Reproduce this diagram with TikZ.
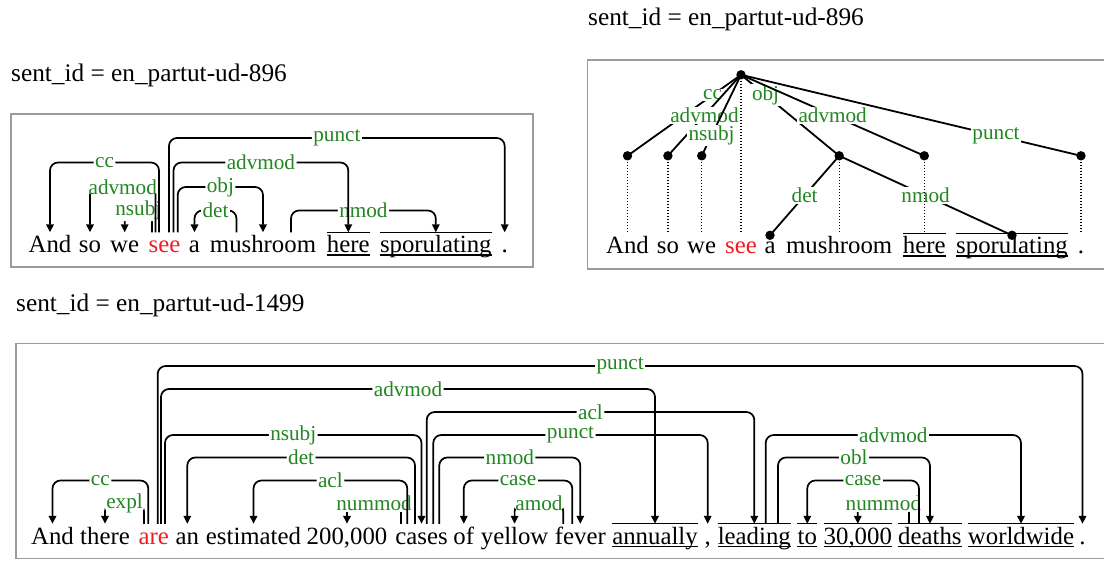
\documentclass[tikz,border=0pt]{standalone}
\usepackage{fontspec}
\setmainfont{Liberation Serif}
\usetikzlibrary{arrows.meta}

\definecolor{lblgreen}{RGB}{34,134,34}
\definecolor{headred}{RGB}{240,28,36}
\definecolor{boxgray}{RGB}{155,155,155}

\tikzset{
  word/.style={anchor=base, inner sep=0pt, text height=20pt, font=\fontsize{24.8}{30}\selectfont},
  headword/.style={word, text=headred},
  idtext/.style={anchor=base west, inner sep=0pt, font=\fontsize{25.3}{30}\selectfont},
  lbl/.style={fill=white, text=lblgreen, inner xsep=1.5pt, inner ysep=1pt, font=\fontsize{21.2}{25}\selectfont},
  dep/.style={line width=1.7pt, rounded corners=8pt, -{Triangle[length=8pt,width=7.5pt]}},
  panelbox/.style={draw=boxgray, line width=1.5pt},
  tline/.style={line width=1.8pt},
  vdots/.style={line width=1.4pt, dash pattern=on 1.4pt off 1.6pt},
  wordbar/.style={line width=1.3pt},
}

% arc from a head word (stub shifted from its centre) to a dependent word at a given height
\newcommand\deparc[5]{%
  \path ([xshift=#2pt]#1.north) coordinate (hh) (0,#4) coordinate (lv);
  \draw[dep] (hh) -- (hh |- lv) -- node[lbl]{#5} (#3.north |- lv) -- (#3.north);
}
% straight tree edge with its relation label
\newcommand\treearc[4]{\draw[tline] (#1) -- node[lbl,pos=#3]{#4} (#2);}
% line over and under a word
\newcommand\wordbars[1]{%
  \draw[wordbar] (#1.north west) -- (#1.north east)
    ([yshift=-2.5pt]#1.base west) -- ([yshift=-2.5pt]#1.base east);}

\begin{document}
\begin{tikzpicture}[x=1pt,y=-1pt]
\useasboundingbox (0,0) rectangle (1104,561);
\clip (0,0) rectangle (1104,561);

% sentence ids
\node[idtext] (id1) at (11,82) {sent\_id = en\_partut-ud-896};
\node[idtext] (id2) at (588,25.5) {sent\_id = en\_partut-ud-896};
\node[idtext] (id3) at (16,312) {sent\_id = en\_partut-ud-1499};

% frames
\draw[panelbox] (11,114) rectangle (533,267);
\draw[panelbox] (587.5,60) rectangle (1125,269);
\draw[panelbox] (16,343.5) rectangle (1125,558.5);

% ---------- arc view, sentence 896 ----------
\node[word] (a-and) at (50,252.5) {And};
\node[word] (a-so) at (90,252.5) {so};
\node[word] (a-we) at (124.7,252.5) {we};
\node[headword] (a-see) at (164.5,252.5) {see};
\node[word] (a-a) at (194.5,252.5) {a};
\node[word] (a-mush) at (263,252.5) {mushroom};
\node[word] (a-here) at (348.3,252.5) {here};
\node[word] (a-spor) at (435.8,252.5) {sporulating};
\node[word] (a-dot) at (504.7,252.5) {.};
\wordbars{a-here}
\wordbars{a-spor}

\deparc{a-see}{-12.5}{a-we}{210.5}{nsubj}
\deparc{a-mush}{-26.5}{a-a}{210.5}{det}
\deparc{a-mush}{28}{a-spor}{210.5}{nmod}
\deparc{a-see}{-9}{a-so}{187}{advmod}
\deparc{a-see}{13.2}{a-mush}{187}{obj}
\deparc{a-see}{-5.5}{a-and}{162.5}{cc}
\deparc{a-see}{9}{a-here}{162.5}{advmod}
\deparc{a-see}{4.5}{a-dot}{138}{punct}

% ---------- tree view, sentence 896 ----------
\node[word] (b-and) at (627.5,253.5) {And};
\node[word] (b-so) at (667.9,253.5) {so};
\node[word] (b-we) at (701.7,253.5) {we};
\node[headword] (b-see) at (741,253.5) {see};
\node[word] (b-a) at (770,253.5) {a};
\node[word] (b-mush) at (839.2,253.5) {mushroom};
\node[word] (b-here) at (924.3,253.5) {here};
\node[word] (b-spor) at (1012,253.5) {sporulating};
\node[word] (b-dot) at (1081,253.5) {.};
\wordbars{b-here}
\wordbars{b-spor}

\coordinate (b-root) at ([yshift=158.5pt]b-see.north);
\coordinate (t-and) at ([yshift=77.5pt]b-and.north);
\coordinate (t-so) at ([yshift=77.5pt]b-so.north);
\coordinate (t-we) at ([yshift=77.5pt]b-we.north);
\coordinate (t-mush) at ([yshift=77.5pt]b-mush.north);
\coordinate (t-here) at ([yshift=77.5pt]b-here.north);
\coordinate (t-dot) at ([yshift=77.5pt]b-dot.north);
\coordinate (t-a) at ([yshift=-2pt]b-a.north);
\coordinate (t-spor) at ([yshift=-2pt]b-spor.north);

\treearc{b-root}{t-and}{0.25}{cc}
\treearc{b-root}{t-so}{0.5}{advmod}
\treearc{b-root}{t-we}{0.75}{nsubj}
\treearc{b-root}{t-mush}{0.25}{obj}
\treearc{b-root}{t-here}{0.5}{advmod}
\treearc{b-root}{t-dot}{0.75}{punct}
\treearc{t-mush}{t-a}{0.5}{det}
\treearc{t-mush}{t-spor}{0.5}{nmod}

\draw[vdots] (t-and) -- (b-and.north);
\draw[vdots] (t-so) -- (b-so.north);
\draw[vdots] (t-we) -- (b-we.north);
\draw[vdots] (b-root) -- (b-see.north);
\draw[vdots] (t-mush) -- (b-mush.north);
\draw[vdots] (t-here) -- (b-here.north);
\draw[vdots] (t-dot) -- (b-dot.north);

\foreach \p in {b-root,t-and,t-so,t-we,t-mush,t-here,t-dot,t-a,t-spor}
  \fill (\p) circle (4.7pt);

% ---------- arc view, sentence 1499 ----------
\node[word] (c-and) at (52.5,544) {And};
\node[word] (c-there) at (105,544) {there};
\node[headword] (c-are) at (153.8,544) {are};
\node[word] (c-an) at (187.3,544) {an};
\node[word] (c-est) at (253.5,544) {estimated};
\node[word] (c-200) at (347,544) {200,000};
\node[word] (c-cases) at (421.5,544) {cases};
\node[word] (c-of) at (463.8,544) {of};
\node[word] (c-yellow) at (514.6,544) {yellow};
\node[word] (c-fever) at (580.3,544) {fever};
\node[word] (c-ann) at (655,544) {annually};
\node[word] (c-comma) at (707.7,544) {,};
\node[word] (c-lead) at (754.3,544) {leading};
\node[word] (c-to) at (807.3,544) {to};
\node[word] (c-30) at (857.8,544) {30,000};
\node[word] (c-deaths) at (929.9,544) {deaths};
\node[word] (c-world) at (1021,544) {worldwide};
\node[word] (c-dot) at (1082.5,544) {.};
\foreach \w in {c-ann,c-lead,c-to,c-30,c-deaths,c-world}
  {\wordbars{\w}}

\deparc{c-are}{-9.8}{c-there}{503.5}{expl}
\deparc{c-cases}{-20.5}{c-200}{503.5}{nummod}
\deparc{c-fever}{-17}{c-yellow}{503.5}{amod}
\deparc{c-deaths}{-20.9}{c-30}{503.5}{nummod}
\deparc{c-are}{-5.5}{c-and}{480.5}{cc}
\deparc{c-cases}{-14.2}{c-est}{480.5}{acl}
\deparc{c-fever}{-8}{c-of}{480.5}{case}
\deparc{c-deaths}{-10.9}{c-to}{480.5}{case}
\deparc{c-cases}{-6.5}{c-an}{457.5}{det}
\deparc{c-cases}{17.8}{c-fever}{457.5}{nmod}
\deparc{c-lead}{23.7}{c-deaths}{457.5}{obl}
\deparc{c-are}{11.2}{c-cases}{435}{nsubj}
\deparc{c-cases}{11.8}{c-comma}{435}{punct}
\deparc{c-lead}{11.4}{c-world}{435}{advmod}
\deparc{c-cases}{5.2}{c-lead}{412}{acl}
\deparc{c-are}{7.2}{c-ann}{389}{advmod}
\deparc{c-are}{3.9}{c-dot}{366}{punct}
\end{tikzpicture}
\end{document}
